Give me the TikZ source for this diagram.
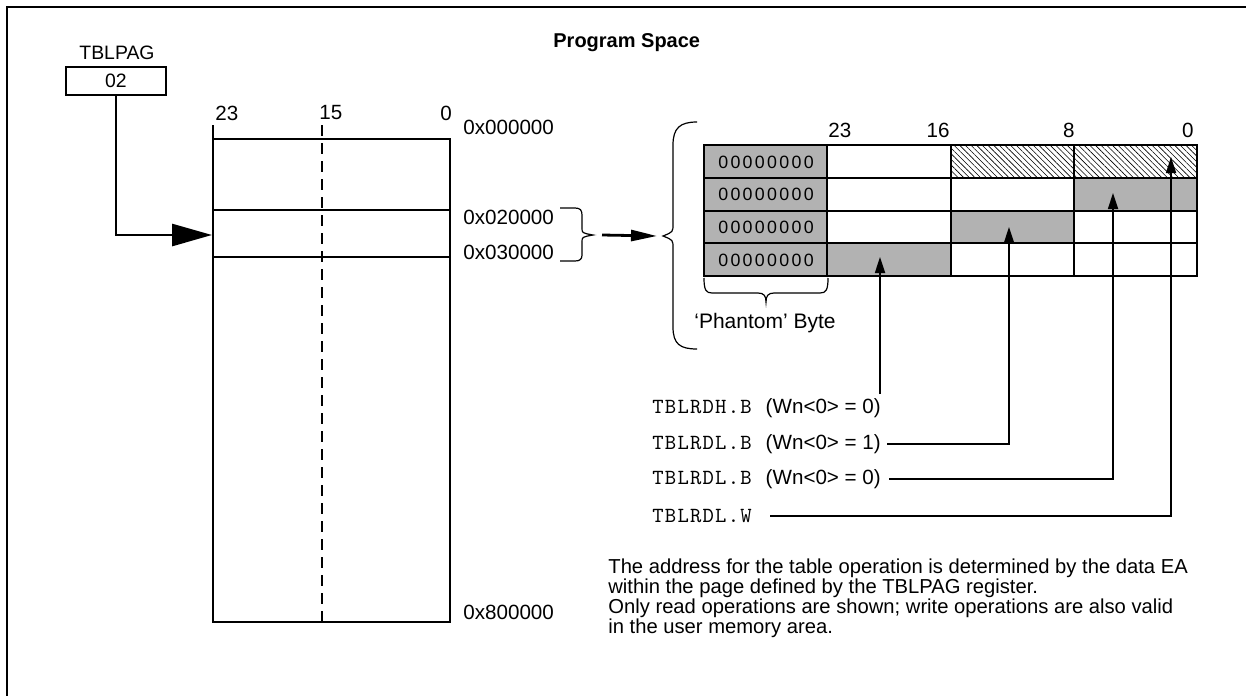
\documentclass[tikz,border=0pt]{standalone}
\usepackage{fontspec}
\setmainfont{Liberation Sans}
\newfontfamily\bitsfont[LetterSpace=13]{Liberation Sans}
\newfontfamily\opfont[LetterSpace=5.7]{lmmono10-regular.otf}
\newcommand{\opcode}[1]{{\opfont\fontsize{10.8}{12}\selectfont #1}}
\usetikzlibrary{arrows.meta,patterns.meta,positioning}

\tikzset{
  lbl/.style={inner sep=0pt, font=\fontsize{10.3}{12}\selectfont},
  note/.style={inner sep=0pt, align=left, font=\fontsize{10.1}{10}\selectfont},
  bits/.style={inner sep=0pt, font=\bitsfont\fontsize{8.9}{10}\selectfont},
  memline/.style={line width=0.9pt},
  brace/.style={line width=0.6pt},
  oparrow/.style={line width=0.9pt, -{Triangle[length=8pt,width=5pt]}},
  pagearrow/.style={line width=1.4pt, -{Triangle[length=20pt,width=11pt]}},
  maparrow/.style={line width=1.4pt, -{Triangle[length=13pt,width=5.5pt]}}
}

\begin{document}
\begin{tikzpicture}[x=0.5pt, y=-0.5pt]
  \useasboundingbox (0,0) rectangle (1246,696);
  % frame
  \draw[line width=1.1pt] (1246,7) -- (7,7) -- (7,696);

  % title and page register
  \node[lbl, anchor=west, font=\bfseries\fontsize{10}{12}\selectfont] (title) at (553,43) {Program Space};
  \node[lbl, font=\fontsize{9.7}{12}\selectfont] (pagname) at (117,53) {TBLPAG};
  \node[draw, memline, lbl, font=\fontsize{9.7}{12}\selectfont, minimum width=50pt, minimum height=14pt] (pag) at (116,81) {02};

  % program memory column
  \draw[memline] (213,125) -- (213,622) -- (450,622) -- (450,139) -- (213,139);
  \draw[memline] (213,210) -- (450,210);
  \draw[memline] (213,257) -- (450,257);
  \draw[memline, dash pattern=on 5.5pt off 3.5pt] (322,125) -- (322,622);
  \node[lbl, anchor=west] (msb) at (215,113) {23};
  \node[lbl, anchor=west] (mid) at (319,113) {15};
  \node[lbl] (lsb) at (446,113) {0};
  \node[lbl, anchor=west] (a0) at (463,127) {0x000000};
  \node[lbl, anchor=west] (a2) at (463,217) {0x020000};
  \node[lbl, anchor=west] (a3) at (463,252) {0x030000};
  \node[lbl, anchor=west] (a8) at (463,612) {0x800000};
  \coordinate (memrow) at (212,235);
  \draw[pagearrow] (pag.south) |- (memrow);

  % braces
  \coordinate (smalltip) at (593,235);
  \coordinate (bigtip) at (663,236);
  \draw[brace] (560,208) -- (575,208) .. controls (580,208) and (582,210) .. (582,215)
    -- (582,228) .. controls (582,233) .. (smalltip) .. controls (582,237) .. (582,242)
    -- (582,255) .. controls (582,259) and (580,261) .. (575,261) -- (560,261);
  \draw[brace] (697,122) .. controls (680,122) and (673,128) .. (673,145)
    -- (673,224) .. controls (673,232) .. (bigtip) .. controls (673,240) .. (673,248)
    -- (673,327) .. controls (673,344) and (680,349) .. (697,349);
  \draw[maparrow] ([xshift=4.5pt]smalltip) -- ([xshift=-3pt]bigtip);

  % table word
  \fill[black!30] (704,145) rectangle (827,276);
  \fill[pattern={Lines[angle=-45,distance=2pt,line width=0.3pt]}] (951,145) rectangle (1197,178);
  \fill[black!30] (1074,178) rectangle (1197,211);
  \fill[black!30] (951,211) rectangle (1074,243);
  \fill[black!30] (827,243) rectangle (951,276);
  \draw[memline] (704,145) rectangle (1197,276);
  \foreach \y in {178,211,243}
    \draw[memline] (704,\y) -- (1197,\y);
  \foreach \x in {827,951,1074}
    \draw[memline] (\x,145) -- (\x,276);
  \foreach \y/\n in {162/r1,194/r2,227/r3,260/r4}
    \node[bits] (\n) at (766,\y) {00000000};
  \node[lbl, anchor=west] (t23) at (828,130) {23};
  \node[lbl, anchor=east] (t16) at (950,130) {16};
  \node[lbl, anchor=east] (t8) at (1075,130) {8};
  \node[lbl, anchor=east] (t0) at (1194,130) {0};
  \draw[brace] (704,278) .. controls (704,290) and (706,293) .. (712,293) -- (758,293)
    .. controls (764,293) and (766,296) .. (766,302) .. controls (766,296) and (768,293) .. (774,293)
    -- (820,293) .. controls (826,293) and (828,290) .. (828,278);
  \node[lbl, font=\fontsize{10.5}{12}\selectfont] (phantom) at (765,323) {`Phantom' Byte};

  % table read instructions
  \node[lbl, anchor=west] (rdh) at (652,408) {\opcode{TBLRDH.B}\hspace{7pt}(Wn<0> = 0)};
  \node[lbl, anchor=west] (rdlone) at (652,444) {\opcode{TBLRDL.B}\hspace{7pt}(Wn<0> = 1)};
  \node[lbl, anchor=west] (rdlzero) at (652,479) {\opcode{TBLRDL.B}\hspace{7pt}(Wn<0> = 0)};
  \node[lbl, anchor=west] (rdlw) at (652,516) {\opcode{TBLRDL.W}};
  \coordinate (tgtH) at (880,257);
  \coordinate (tgtLone) at (1009,227);
  \coordinate (tgtLzero) at (1113,193);
  \coordinate (tgtW) at (1171,157);
  \draw[oparrow] ([yshift=2pt]tgtH |- rdh.north) -- (tgtH);
  \draw[oparrow] ([xshift=3pt]rdlone.east) -| (tgtLone);
  \draw[oparrow] ([xshift=4pt]rdlzero.east) -| (tgtLzero);
  \draw[oparrow] ([xshift=9pt]rdlw.east) -| (tgtW);

  % note
  \node[note, anchor=north west] (remark) at (608,558) {The address for the table operation is determined by the data EA\\
    within the page defined by the TBLPAG register.\\
    Only read operations are shown; write operations are also valid\\
    in the user memory area.};
\end{tikzpicture}
\end{document}
